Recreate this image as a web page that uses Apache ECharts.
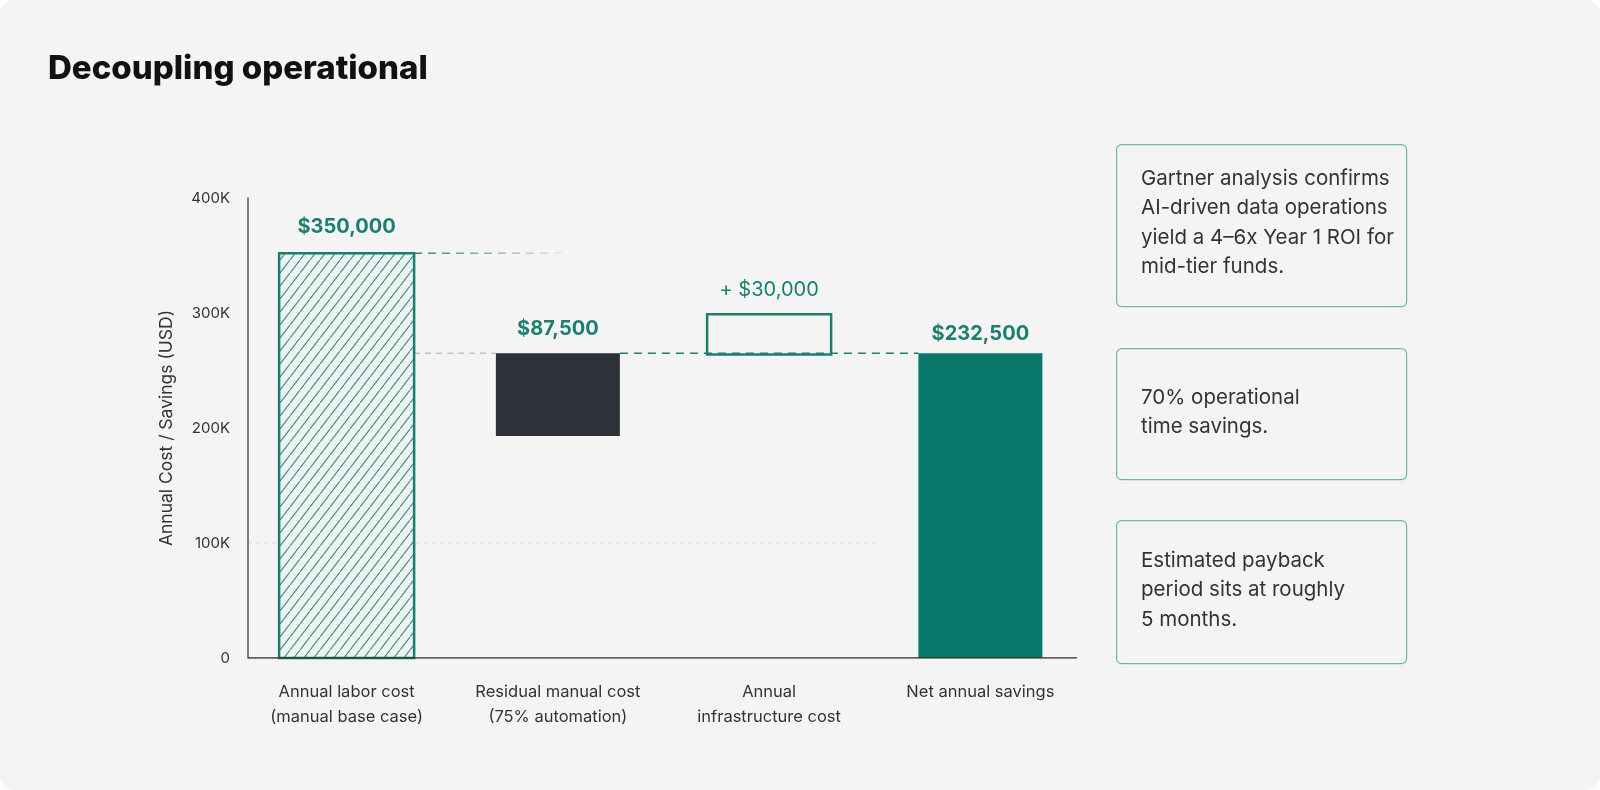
<!DOCTYPE html>
<html><head><meta charset="utf-8">
<script src="https://cdn.jsdelivr.net/npm/echarts@6/dist/echarts.min.js"></script>
<style>
html,body{margin:0;padding:0;background:#ffffff;}
#chart{width:1600px;height:790px;background:#f4f4f4;border-radius:14px;overflow:hidden;}
</style></head><body><div id="chart"></div>
<script>
// ---- data ----
const categories = ['Annual labor cost\n(manual base case)', 'Residual manual cost\n(75% automation)', 'Annual\ninfrastructure cost', 'Net annual savings'];
const barBottoms = [0, 193000, 264000, 0];
const barTops = [352000, 265000, 299000, 265000];
const valueLabels = ['$350,000', '$87,500', '+ $30,000', '$232,500'];
const yTickLabels = ['0', '100K', '200K', '300K', '400K'];
const connectorLevels = [352000, 265000, 265000, 100000];
const notes = [
  'Gartner analysis confirms\nAI-driven data operations\nyield a 4\u20136x Year 1 ROI for\nmid-tier funds.',
  '70% operational\ntime savings.',
  'Estimated payback\nperiod sits at roughly\n5 months.'
];
const titleText = 'Decoupling operational';
const yAxisName = 'Annual Cost / Savings (USD)';

// ---- styles ----
const FONT = 'Inter, "Noto Sans", sans-serif';
const GREEN = '#1b7f6f';
const DARK = '#2d3139';
const NET = '#08786a';
const GRID_L = 241, GRID_R = 1086;
const BAND = (GRID_R - GRID_L) / 4;
const AXIS_INSET_L = 7, AXIS_INSET_R = 9;
const barWidths = [135, 124, 124, 124];
const labelGap = [16, 14, 14, 9];

function hatch() {
  const w = 10, h = 13;
  const c = document.createElement('canvas');
  c.width = w; c.height = h;
  const g = c.getContext('2d');
  g.fillStyle = '#eef2f1';
  g.fillRect(0, 0, w, h);
  g.strokeStyle = 'rgba(27,127,111,0.8)';
  g.lineWidth = 1.25;
  g.beginPath();
  g.moveTo(-1, h + 1.3); g.lineTo(w + 1, -1.3);
  g.moveTo(-1 - w, 2 * h + 1.3); g.lineTo(1, h - 1.3);
  g.moveTo(w - 1, 1.3); g.lineTo(2 * w + 1, -h - 1.3);
  g.stroke();
  return c;
}
const hatchPattern = { image: hatch(), repeat: 'repeat' };

const barStyles = [
  { fill: hatchPattern, stroke: GREEN, lineWidth: 2.5 },
  { fill: DARK },
  { fill: 'rgba(0,0,0,0)', stroke: GREEN, lineWidth: 2.5 },
  { fill: NET }
];
const labelWeights = [700, 700, 400, 700];

// connector spans in band units (category i centre = i + 0.5)
const edgeR = (i) => i + 0.5 + barWidths[i] / 2 / BAND;
const edgeL = (i) => i + 0.5 - barWidths[i] / 2 / BAND;
const connectorSpans = [
  [edgeR(0), 1.55],
  [edgeR(0), edgeL(1)],
  [edgeR(1), edgeL(3)],
  [AXIS_INSET_L / BAND, 3.02]
];
const connectorStyles = [
  { color: new echarts.graphic.LinearGradient(0, 0, 1, 0, [{ offset: 0, color: 'rgba(27,127,111,0.95)' }, { offset: 1, color: 'rgba(27,127,111,0.05)' }]), width: 1.6, type: [8, 6] },
  { color: 'rgba(150,160,160,0.55)', width: 1.3, type: [6, 5] },
  { color: GREEN, width: 1.6, type: [8, 6] },
  { color: 'rgba(130,175,168,0.3)', width: 1.2, type: [4, 4] }
];

const chart = echarts.init(document.getElementById('chart'), null, { renderer: 'canvas' });

const lineSeries = connectorLevels.map((lv, i) => ({
  type: 'line', xAxisIndex: 1, yAxisIndex: 0, z: 1, silent: true,
  symbol: 'none', animation: false,
  data: [[connectorSpans[i][0], lv], [connectorSpans[i][1], lv]],
  lineStyle: connectorStyles[i]
}));
// x baseline (drawn from the y-axis line to the axis end)
lineSeries.push({
  type: 'line', xAxisIndex: 1, yAxisIndex: 0, z: 5, silent: true, symbol: 'none', animation: false,
  data: [[AXIS_INSET_L / BAND, 0], [4 - AXIS_INSET_R / BAND, 0]],
  lineStyle: { color: '#333333', width: 1.5, type: 'solid' }
});

const graphics = [];
const boxes = [
  { y: 144, h: 162, ty: 164 },
  { y: 348, h: 131, ty: 383 },
  { y: 520, h: 143, ty: 546 }
];
boxes.forEach((b, i) => {
  graphics.push({ type: 'rect', left: 1116, top: b.y, shape: { width: 290, height: b.h, r: 5 }, style: { fill: 'rgba(0,0,0,0)', stroke: '#6db8ac', lineWidth: 1.2 }, silent: true });
  graphics.push({ type: 'text', x: 1141, y: b.ty, style: { text: notes[i], font: '400 20.5px ' + FONT, fill: '#333333', lineHeight: 29.5, verticalAlign: 'top' }, silent: true });
});

chart.setOption({
  backgroundColor: 'transparent',
  animation: false,
  title: { text: titleText, left: 43, top: 48, textStyle: { fontFamily: FONT, fontSize: 33, fontWeight: 800, color: '#111111' } },
  grid: { left: GRID_L, right: 1600 - GRID_R, top: 198, bottom: 132 },
  xAxis: [
    { type: 'category', data: categories, axisTick: { show: false },
      axisLine: { show: false },
      axisLabel: { interval: 0, color: '#333333', fontSize: 16.5, lineHeight: 25, margin: 22, fontFamily: FONT } },
    { type: 'value', min: 0, max: 4, show: false }
  ],
  yAxis: {
    type: 'value', min: 0, max: 400000, interval: 100000, offset: -AXIS_INSET_L,
    name: yAxisName, nameLocation: 'middle', nameGap: 72,
    nameTextStyle: { color: '#333333', fontSize: 17.5, fontFamily: FONT },
    axisLine: { show: true, lineStyle: { color: '#555555', width: 1.5 } },
    axisTick: { show: false }, splitLine: { show: false },
    axisLabel: { color: '#333333', fontSize: 15, margin: 18, fontFamily: FONT,
      formatter: (v) => yTickLabels[Math.round(v / 100000)] }
  },
  series: [
    ...lineSeries,
    { type: 'custom', xAxisIndex: 0, yAxisIndex: 0, z: 3, silent: true,
      encode: { x: 0, y: [1, 2] },
      data: barTops.map((t, i) => [i, barBottoms[i], t]),
      renderItem: (params, api) => {
        const i = api.value(0);
        const top = api.coord([i, api.value(2)]);
        const bot = api.coord([i, api.value(1)]);
        const w = barWidths[i];
        return {
          type: 'group',
          children: [
            { type: 'rect', shape: { x: top[0] - w / 2, y: top[1], width: w, height: bot[1] - top[1] }, style: barStyles[i] },
            { type: 'text', style: { text: valueLabels[i], x: top[0], y: top[1] - labelGap[i], align: 'center', verticalAlign: 'bottom',
                font: labelWeights[i] + ' 20px ' + FONT, fill: GREEN } }
          ]
        };
      }
    }
  ],
  graphic: graphics
});
</script></body></html>
